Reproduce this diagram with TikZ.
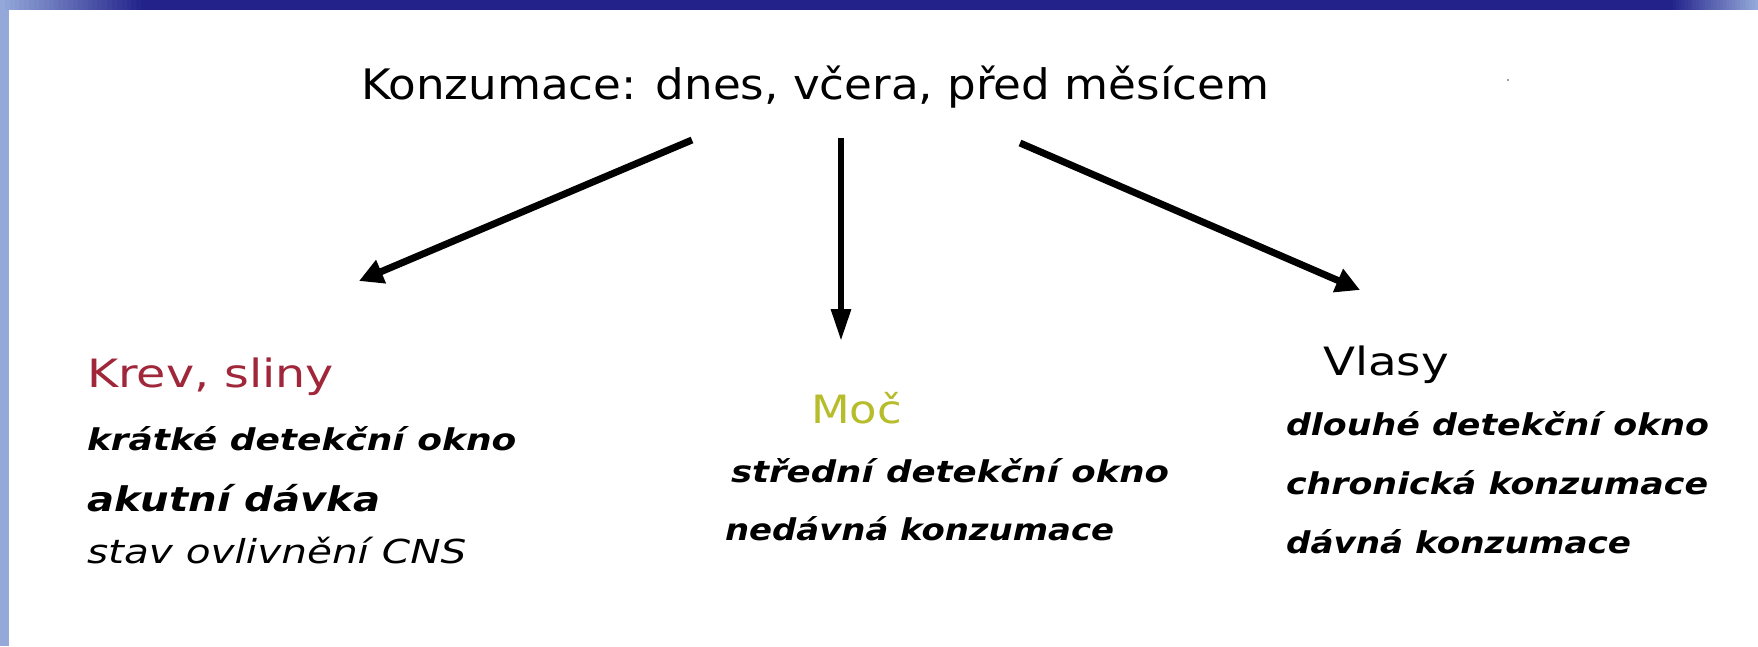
\documentclass[tikz,border=0pt]{standalone}
\usepackage{fontspec}
\setmainfont{DejaVu Sans}[ItalicFont={DejaVu Sans Oblique},BoldFont={DejaVu Sans Bold},BoldItalicFont={DejaVu Sans Bold Oblique}]
\usetikzlibrary{arrows.meta}
\definecolor{navy}{RGB}{34,34,138}
\definecolor{lightbar}{RGB}{148,168,217}
\definecolor{krevred}{RGB}{160,38,58}
\definecolor{mocgreen}{RGB}{183,188,42}
\newcommand{\hs}[2]{\scalebox{#1}[1]{#2}}
\begin{document}
\begin{tikzpicture}[x=1pt,y=-1pt,
  txt/.style={anchor=base west,inner sep=0pt,outer sep=0pt},
  titlefont/.style={font=\fontsize{42}{50}\selectfont},
  headfont/.style={font=\fontsize{39}{46}\selectfont},
  listfont/.style={font=\fontsize{30}{36}\selectfont\bfseries\itshape},
  arr/.style={line width=7pt,-{Triangle[length=24pt,width=24pt]}},
  arrv/.style={line width=6pt,-{Triangle[length=32pt,width=19pt]}}]
\useasboundingbox (0,0) rectangle (1758,646);
\fill[white] (0,0) rectangle (1758,646);
% frame
\fill[navy] (0,0) rectangle (1758,10);
\foreach \i in {0,...,29}{
  \pgfmathsetmacro{\p}{100-\i*100/29}
  \fill[lightbar!\p!navy] (\i*146/30,0) rectangle ({(\i+1)*146/30+0.5},10);
  \fill[lightbar!\p!navy] ({1758-(\i+1)*88/30-0.5},0) rectangle (1758-\i*88/30,10);
}
\fill[lightbar] (0,9.5) rectangle (9,646);
\fill[gray] (1508,80) circle (1.2);
% texts
\node[txt,titlefont] (title) at (361,99) {\hs{1.076}{Konzumace: dnes, včera, před měsícem}};
\node[txt,headfont,text=krevred] (krev) at (87,387) {\hs{1.22}{Krev, sliny}};
\node[txt,listfont] (k1) at (87,450) {\hs{1.20}{krátké detekční okno}};
\node[txt,font=\fontsize{34}{40}\selectfont\bfseries\itshape] (k2) at (87,511) {\hs{1.18}{akutní dávka}};
\node[txt,font=\fontsize{33}{40}\selectfont\itshape] (k3) at (87,563) {\hs{1.23}{stav ovlivnění CNS}};
\node[txt,headfont,text=mocgreen] (moc) at (811,423) {\hs{1.15}{Moč}};
\node[txt,listfont] (m1) at (731,482) {\hs{1.185}{střední detekční okno}};
\node[txt,listfont] (m2) at (725,540) {\hs{1.13}{nedávná konzumace}};
\node[txt,headfont] (vlasy) at (1323,375) {\hs{1.20}{Vlasy}};
\node[txt,listfont] (v1) at (1286,435) {\hs{1.16}{dlouhé detekční okno}};
\node[txt,listfont] (v2) at (1286,494) {\hs{1.16}{chronická konzumace}};
\node[txt,listfont] (v3) at (1286,553) {\hs{1.14}{dávná konzumace}};
% arrows
\coordinate (sL) at (692,140);
\coordinate (eL) at (359,281);
\coordinate (sM) at (841,138);
\coordinate (eM) at (841,341);
\coordinate (sR) at (1020,143);
\coordinate (eR) at (1360,290);
\draw[arr] (sL) -- (eL);
\draw[arrv] (sM) -- (eM);
\draw[arr] (sR) -- (eR);
\end{tikzpicture}
\end{document}
